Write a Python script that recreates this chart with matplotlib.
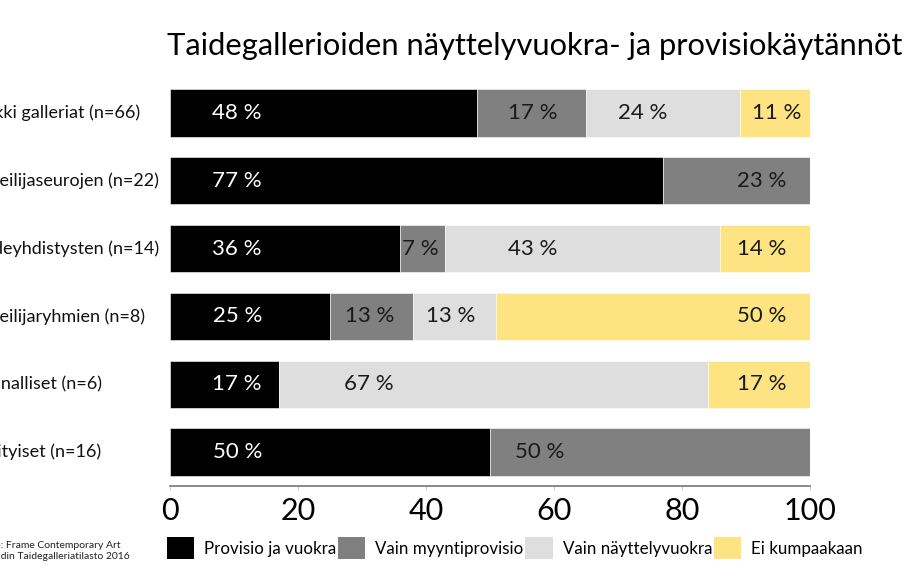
import numpy as np
import matplotlib.pyplot as plt
import matplotlib.transforms as mtransforms
from matplotlib.patches import Patch

plt.rcParams['font.family'] = ['Lato', 'DejaVu Sans']

# data
categories = ['Kaikki galleriat (n=66)', 'Taiteilijaseurojen (n=22)', 'Taideyhdistysten (n=14)',
              'Taiteilijaryhmien (n=8)', 'Kunnalliset (n=6)', 'Yksityiset (n=16)']
series_names = ['Provisio ja vuokra', 'Vain myyntiprovisio', 'Vain näyttelyvuokra', 'Ei kumpaakaan']
provisio_vuokra = [48, 77, 36, 25, 17, 50]
vain_provisio = [17, 23, 7, 13, 0, 50]
vain_vuokra = [24, 0, 43, 13, 67, 0]
ei_kumpaakaan = [11, 0, 14, 50, 17, 0]
ticks = [0, 20, 40, 60, 80, 100]
title = 'Taidegallerioiden näyttelyvuokra- ja provisiokäytännöt'
source = 'Lähde: Frame Contemporary Art\nFinlandin Taidegalleriatilasto 2016'

colors = ['#000000', '#808080', '#dedede', '#fde382']
text_colors = ['white', '#1a1a1a', '#1a1a1a', '#1a1a1a']

# where the value labels sit inside each segment (x in data units)
label_x = [
    [10.5, 56.7, 73.8, 94.8],
    [10.5, 92.5, None, None],
    [10.5, 39.1, 56.7, 92.5],
    [10.5, 31.2, 43.9, 92.5],
    [10.5, None, 31.1, 92.5],
    [10.5, 57.7, None, None],
]

values = np.array([provisio_vuokra, vain_provisio, vain_vuokra, ei_kumpaakaan])

fig = plt.figure(figsize=(9.2, 5.8), dpi=100)
ax = fig.add_axes([170 / 920, 1 - 486 / 580, 640 / 920, 407 / 580])

y = np.arange(len(categories))
left = np.zeros(len(categories))
for k in range(len(series_names)):
    ax.barh(y, values[k], left=left, height=0.7, color=colors[k],
            edgecolor='white', linewidth=0.4, label=series_names[k])
    left += values[k]

for i in range(len(categories)):
    for k in range(len(series_names)):
        v = values[k][i]
        if v == 0 or label_x[i][k] is None:
            continue
        ax.text(label_x[i][k], y[i], f'{v} %', ha='center', va='center',
                fontsize=16, color=text_colors[k])

# category labels are left aligned, running off the left edge of the image
trans = mtransforms.blended_transform_factory(fig.transFigure, ax.transData)
for i, cat in enumerate(categories):
    ax.text(-31 / 920, y[i], cat, transform=trans, ha='left', va='center',
            fontsize=13, color='#111111')

ax.set_xlim(0, 100)
ax.set_ylim(len(categories) - 0.5, -0.5)
ax.set_xticks(ticks)
ax.set_xticklabels([str(t) for t in ticks], fontsize=22)
ax.tick_params(axis='x', length=3, color='#cccccc', pad=5)
ax.set_yticks([])
for s in ['top', 'right', 'left']:
    ax.spines[s].set_visible(False)
ax.spines['bottom'].set_color('#777777')
ax.spines['bottom'].set_linewidth(1.2)

fig.text(167 / 920, 1 - 46 / 580, title, fontsize=22.2, va='center', ha='left')
fig.text(-27 / 920, 1 - 551 / 580, source, fontsize=7.5, va='center', ha='left',
         linespacing=1.3, color='#222222')

handles = [Patch(facecolor=c, edgecolor='none') for c in colors]
fig.legend(handles, series_names, loc='center left', bbox_to_anchor=(167 / 920, 1 - 548 / 580),
           ncol=4, frameon=False, fontsize=12.2, handlelength=1.6, handleheight=1.6,
           handletextpad=0.6, columnspacing=0.1, borderaxespad=0, borderpad=0)

fig.savefig('out.png', dpi=100)
